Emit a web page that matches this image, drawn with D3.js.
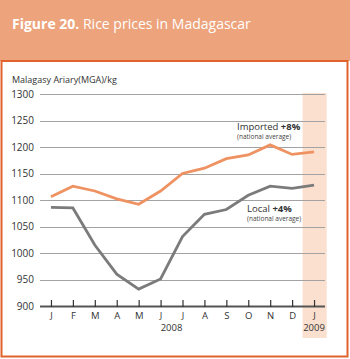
<!DOCTYPE html>
<html>
<head>
<meta charset="utf-8">
<script src="https://cdn.jsdelivr.net/npm/d3@7"></script>
<style>
  body { margin: 0; background: #fff; }
  text { font-family: "Open Sans", "Noto Sans", sans-serif; }
</style>
</head>
<body>
<div id="chart"></div>
<script>
// data
var months    = ["J", "F", "M", "A", "M", "J", "J", "A", "S", "O", "N", "D", "J"];
var imported  = [1106, 1126, 1117, 1102, 1092, 1117, 1150, 1160, 1178, 1185, 1204, 1186, 1191];
var local     = [1086, 1085, 1015, 960, 932, 951, 1031, 1073, 1082, 1109, 1126, 1122, 1128];
var yTicks    = [900, 950, 1000, 1050, 1100, 1150, 1200, 1250, 1300];

var width  = 350,
    height = 359;

var svg = d3.select("#chart")
  .append("svg")
  .attr("width", width)
  .attr("height", height);

// header + frame
svg.append("rect")
  .attr("x", 0).attr("y", 0)
  .attr("width", width).attr("height", 61)
  .attr("fill", "#eda37b");

svg.append("rect")
  .attr("x", 1.5).attr("y", 61)
  .attr("width", 346).attr("height", 295.5)
  .attr("fill", "#fff")
  .attr("stroke", "#e2622c")
  .attr("stroke-width", 2);

var title = svg.append("text")
  .attr("x", 12).attr("y", 29)
  .attr("fill", "#fff")
  .attr("font-size", 14);
title.append("tspan").attr("font-weight", "bold").text("Figure 20.");
title.append("tspan").text(" Rice prices in Madagascar");

svg.append("text")
  .attr("x", 12).attr("y", 83)
  .attr("font-size", 9)
  .attr("fill", "#333")
  .text("Malagasy Ariary(MGA)/kg");

// scales
var x = d3.scalePoint()
  .domain(d3.range(months.length))
  .range([40, 325])
  .padding(0.5);

var y = d3.scaleLinear()
  .domain([900, 1300])
  .range([306, 94]);

// 2009 shading
var step = x.step();
svg.append("rect")
  .attr("x", x(12) - step / 2 - 0.5)
  .attr("y", 93)
  .attr("width", step * 1.1)
  .attr("height", 245)
  .attr("fill", "#fbe0cf");

// gridlines
svg.append("g")
  .selectAll("line")
  .data(yTicks.slice(1))
  .enter()
  .append("line")
  .attr("x1", 40).attr("x2", 325)
  .attr("y1", (d) => Math.round(y(d)) + 0.5)
  .attr("y2", (d) => Math.round(y(d)) + 0.5)
  .attr("stroke", "#a3a3a3")
  .attr("stroke-width", 1);

// y labels
svg.append("g")
  .selectAll("text")
  .data(yTicks)
  .enter()
  .append("text")
  .attr("x", 34)
  .attr("y", (d) => y(d) + 3.5)
  .attr("text-anchor", "end")
  .attr("font-size", 10)
  .attr("fill", "#333")
  .text((d) => d);

// x axis
var xAxis = d3.axisBottom(x)
  .tickSize(-6)
  .tickFormat((i) => months[i]);

var gx = svg.append("g")
  .attr("transform", "translate(0,306)")
  .call(xAxis);

gx.select(".domain")
  .attr("d", "M40,0.5H325")
  .attr("stroke", "#555")
  .attr("stroke-width", 2);
gx.selectAll(".tick line")
  .attr("stroke", "#333")
  .attr("stroke-width", 1.2)
  .attr("y2", -6).attr("y1", 1);
gx.selectAll(".tick text")
  .attr("y", 6)
  .attr("font-size", 9.5)
  .attr("fill", "#333")
  .attr("font-family", "'Open Sans', 'Noto Sans', sans-serif");

svg.append("text")
  .attr("x", (x(5) + x(6)) / 2).attr("y", 331)
  .attr("text-anchor", "middle")
  .attr("font-size", 9.5)
  .attr("fill", "#333")
  .text("2008");

svg.append("text")
  .attr("x", x(12)).attr("y", 331)
  .attr("text-anchor", "middle")
  .attr("font-size", 9.5)
  .attr("fill", "#333")
  .text("2009");

// lines
var line = d3.line()
  .x((d, i) => x(i))
  .y((d) => y(d));

svg.append("path")
  .datum(local)
  .attr("d", line)
  .attr("fill", "none")
  .attr("stroke", "#7b7b7b")
  .attr("stroke-width", 2.8);

svg.append("path")
  .datum(imported)
  .attr("d", line)
  .attr("fill", "none")
  .attr("stroke", "#ef9262")
  .attr("stroke-width", 2.8);

// annotations
function label(x0, y0, name, pct) {
  var t = svg.append("text")
    .attr("x", x0).attr("y", y0)
    .attr("font-size", 9.5)
    .attr("fill", "#333");
  t.append("tspan").text(name + " ");
  t.append("tspan").attr("font-weight", "bold").text(pct);
  svg.append("text")
    .attr("x", x0).attr("y", y0 + 8.5)
    .attr("font-size", 6.5)
    .attr("fill", "#444")
    .text("(national average)");
}
label(237, 130, "Imported", "+8%");
label(247, 212, "Local", "+4%");
</script>
</body>
</html>
